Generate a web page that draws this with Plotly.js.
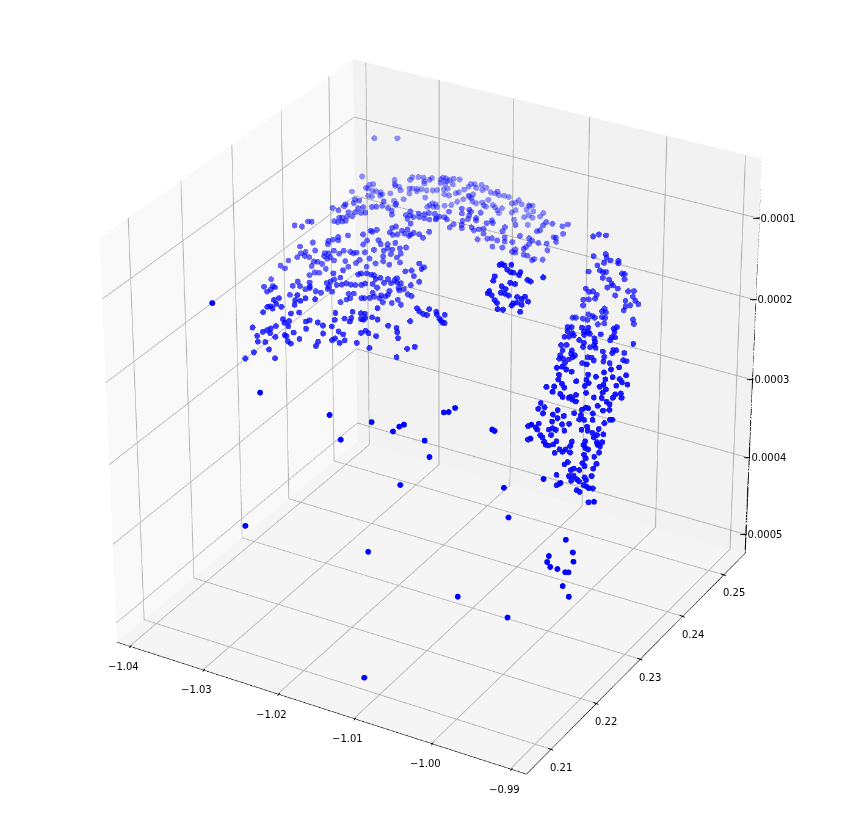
<!DOCTYPE html>
<html><head><meta charset="utf-8"><script src="https://cdn.plot.ly/plotly-3.0.1.min.js"></script>
<style>html,body{margin:0;padding:0;background:#fff;overflow:hidden;width:851px;height:829px}#wrap{position:absolute;left:0;top:0;width:851px;height:829px;overflow:hidden}#c{position:absolute}</style></head>
<body><div id="wrap"><div id="c"></div></div>
<script>
// Axis ticks
const xTicks=[-1.04,-1.03,-1.02,-1.01,-1.00,-0.99];
const yTicks=[0.21,0.22,0.23,0.24,0.25];
const zTicks=[-0.0005,-0.0004,-0.0003,-0.0002,-0.0001];
const xR=[-1.0417,-0.988], yR=[0.2047,0.2553], zR=[-0.000525,-0.000028];
// Point groups: each row is [x, z in millionths]; each group has one y value
const arcBackY=0.2452;
const arcBack=[[-1.0325,-63],[-1.0294,-56],[-1.0342,-114],[-1.0356,-136],[-1.0298,-108],[-1.0298,-113],[-1.0274,-99],[-1.0277,-103],[-1.0266,-97],[-1.0259,-96],[-1.0258,-100],[-1.0251,-97],[-1.0248,-94],[-1.0236,-93],[-1.0233,-90],[-1.0229,-90],[-1.0228,-93],[-1.0224,-91],[-1.0219,-88],[-1.0211,-87],[-1.0236,-97],[-1.023,-97],[-1.022,-95],[-1.0258,-103],
[-1.0332,-122],[-1.0327,-120],[-1.0337,-127],[-1.0334,-127],[-1.0328,-129],[-1.0334,-136],[-1.0329,-136],[-1.0323,-128],[-1.0317,-128],[-1.0315,-130],[-1.0318,-132],[-1.0304,-126],[-1.0292,-115],[-1.0297,-115],[-1.029,-119],[-1.0286,-129],[-1.0299,-134],[-1.0297,-139],[-1.0278,-114],[-1.0278,-120],[-1.0274,-113],[-1.0268,-112],[-1.0268,-115],[-1.0262,-111],[-1.0255,-111],[-1.0247,-109],[-1.0241,-107],[-1.0232,-104],[-1.0227,-102],[-1.0231,-110],[-1.0225,-110],[-1.0257,-120],[-1.0216,-105],[-1.0212,-103],[-1.0205,-98],[-1.0199,-93],[-1.0196,-89],[-1.0191,-88],[-1.0189,-92],[-1.0182,-87],[-1.0176,-89],[-1.0181,-93],[-1.017,-93],[-1.0164,-93],[-1.0161,-90],[-1.0159,-94],[-1.0152,-93],[-1.0146,-93],
[-1.0251,-128],[-1.0247,-125],[-1.0243,-125],[-1.0246,-129],[-1.0241,-128],[-1.0254,-131],[-1.0231,-124],[-1.0222,-121],[-1.0214,-115],[-1.0206,-110],[-1.0199,-104],[-1.0195,-106],[-1.0194,-110],[-1.0189,-111],[-1.0181,-108],[-1.0173,-103],[-1.0179,-111],[-1.0176,-112],[-1.0167,-108],[-1.0164,-110],[-1.0161,-113],[-1.0155,-109],[-1.0159,-116],[-1.0193,-101],[-1.0198,-105],[-1.0142,-100],[-1.0137,-98],[-1.0133,-94],[-1.0129,-98],[-1.0123,-103],[-1.0119,-98],[-1.0115,-96],[-1.012,-97],[-1.0126,-113],[-1.0142,-111],[-1.0137,-107],[-1.012,-109],[-1.0114,-103],[-1.0105,-107],[-1.0101,-102],[-1.0115,-111],[-1.0121,-121],[-1.0139,-119]];
const arcFrontY=0.2452;
const arcFront=[[-1.0346,-145],[-1.0352,-145],[-1.0354,-150],[-1.0365,-154],[-1.0367,-157],[-1.0375,-164],[-1.0383,-163],[-1.0348,-155],[-1.0341,-152],[-1.0344,-160],[-1.0338,-158],[-1.0352,-161],[-1.0361,-163],[-1.0363,-169],[-1.0356,-167],[-1.037,-172],[-1.0374,-173],[-1.0381,-179],[-1.0376,-179],[-1.037,-177],[-1.0365,-175],[-1.0329,-149],[-1.0323,-147],[-1.0315,-144],[-1.0313,-138],[-1.0307,-145],[-1.0302,-147],[-1.0302,-152],[-1.0296,-137],
[-1.0283,-148],[-1.0277,-142],[-1.0277,-147],[-1.0281,-152],[-1.0273,-148],[-1.0266,-142],[-1.0265,-146],[-1.0258,-141],[-1.0252,-138],[-1.0258,-146],[-1.0251,-146],[-1.0244,-137],[-1.0242,-142],[-1.0238,-139],[-1.0231,-138],[-1.0228,-140],[-1.0243,-144],[-1.0225,-130],[-1.0208,-128],[-1.0208,-122],[-1.0198,-121],[-1.0196,-123],[-1.0198,-128],[-1.0189,-129],[-1.0183,-121],[-1.0189,-132],[-1.0168,-127],[-1.0175,-132],[-1.0167,-130],[-1.0207,-137],[-1.02,-133],[-1.0219,-144],[-1.0224,-149],[-1.0208,-142],[-1.0208,-146],[-1.0195,-142],[-1.0192,-145],[-1.0185,-142],[-1.0179,-140],[-1.0179,-146],[-1.0187,-155],[-1.0174,-151],[-1.0168,-149],[-1.0161,-150],[-1.0151,-144],[-1.0151,-149],[-1.0154,-137],[-1.0151,-131],[-1.0167,-159],[-1.0154,-157],[-1.0141,-147],[-1.0137,-155],[-1.0141,-159],[-1.0131,-137],[-1.0123,-149],[-1.0119,-137],[-1.0115,-139],[-1.0107,-140],[-1.0095,-146],[-1.0096,-138],[-1.0087,-128],[-1.0084,-128],[-1.0084,-133],[-1.0075,-121],[-1.0069,-108],[-1.0076,-112],[-1.0089,-112],[-1.0097,-112],[-1.0105,-124],[-1.0109,-126],[-1.0101,-117],[-1.0137,-125],[-1.0126,-152],[-1.0119,-144],[-1.0112,-161],[-1.0121,-159],[-1.0115,-163],[-1.0126,-159],[-1.0137,-159],[-1.0101,-159]];
const wingUpperY=0.23;
const wingUpper=[[-1.0335,-106],[-1.0325,-105],[-1.0317,-97],[-1.0312,-96],[-1.0264,-101],[-1.0244,-95],[-1.0234,-88],[-1.0232,-89],[-1.0226,-85],[-1.0206,-78],[-1.0201,-75],[-1.0182,-67],[-1.0209,-84],[-1.0205,-86],[-1.0199,-84],[-1.0193,-78],[-1.019,-81],[-1.0186,-75],[-1.0182,-80],[-1.0178,-77],[-1.0171,-77],[-1.0158,-71],[-1.0166,-80],[-1.0184,-82],[-1.0277,-106],[-1.0277,-110],[-1.0284,-111],[-1.029,-114],[-1.0291,-118],[-1.0311,-121],[-1.0328,-130],[-1.0308,-130],[-1.0321,-135],[-1.0327,-138],[-1.0332,-144],[-1.0316,-140],[-1.0322,-140],[-1.0355,-160],[-1.0349,-162],[-1.0344,-151],[-1.0295,-130],[-1.0296,-134],[-1.029,-129],[-1.0283,-124],[-1.0276,-126],[-1.027,-121],[-1.0261,-120],[-1.0257,-121],[-1.0253,-119],[-1.0242,-116],[-1.0239,-101],[-1.0244,-107],[-1.023,-110],[-1.0224,-97],[-1.0221,-101],[-1.0212,-99],[-1.0212,-104],[-1.0202,-95],[-1.0206,-104],[-1.0196,-100],[-1.0188,-97],[-1.0217,-108],[-1.0218,-115],[-1.0218,-121],[-1.0208,-110],[-1.0195,-106],[-1.02,-112],[-1.0196,-117],[-1.021,-123],[-1.0236,-122],[-1.0228,-126],[-1.024,-133],[-1.0249,-127],[-1.0254,-132],[-1.0268,-133],[-1.0264,-139],[-1.0292,-136],[-1.0283,-136],[-1.0288,-133],[-1.031,-144],[-1.0305,-143],[-1.0299,-144],[-1.0313,-150],[-1.0294,-149],[-1.0309,-157],[-1.0303,-156],[-1.0316,-162],[-1.0368,-180]];
const wingMidY=0.23;
const wingMid=[[-1.0284,-152],[-1.0271,-145],[-1.0275,-155],[-1.0283,-159],[-1.0288,-163],[-1.0293,-166],[-1.0316,-171],[-1.0316,-176],[-1.0329,-179],[-1.0339,-181],[-1.0332,-174],[-1.0378,-192],[-1.0366,-188],[-1.0363,-189],[-1.0374,-197],[-1.0369,-193],[-1.0343,-193],[-1.0322,-181],[-1.0316,-178],[-1.0308,-180],[-1.0301,-180],[-1.029,-170],[-1.0292,-173],[-1.0286,-175],[-1.028,-165],[-1.0273,-163],[-1.0267,-160],[-1.0261,-160],[-1.0255,-159],[-1.0247,-157],[-1.0242,-154],[-1.0251,-145],[-1.0247,-143],[-1.024,-141],[-1.0234,-141],[-1.023,-141],[-1.0228,-145],[-1.0222,-142],[-1.0232,-152],[-1.0226,-155],[-1.0217,-147],[-1.0212,-141],[-1.0208,-145],[-1.0203,-140],[-1.02,-137],[-1.02,-142],[-1.0195,-142],[-1.0189,-126],[-1.0181,-123],[-1.0171,-112],[-1.0168,-118],[-1.0165,-115],[-1.0178,-129],[-1.0171,-134],[-1.0182,-141],[-1.0191,-148],[-1.0198,-148],[-1.0197,-151],[-1.021,-155],[-1.0212,-160],[-1.0221,-163],[-1.0223,-167],[-1.0232,-163],[-1.0236,-170],[-1.023,-167],[-1.0247,-173],[-1.0243,-172],[-1.0219,-171],[-1.0215,-163],[-1.0257,-170],[-1.0264,-172],[-1.0262,-177],[-1.0267,-180],[-1.0275,-185],[-1.0181,-154],[-1.0186,-153],[-1.0207,-169],[-1.0199,-163],[-1.0195,-168]];
const wingLowerY=0.23;
const wingLower=[[-1.0333,-191],[-1.0336,-198],[-1.0329,-197],[-1.0322,-192],[-1.0309,-190],[-1.0358,-201],[-1.0365,-205],[-1.0362,-209],[-1.0355,-211],[-1.037,-214],[-1.0374,-216],[-1.0367,-216],[-1.0337,-204],[-1.038,-224],[-1.0342,-216],[-1.0331,-212],[-1.0282,-200],[-1.0259,-193],[-1.0248,-192],[-1.0243,-191],[-1.0248,-199],[-1.0242,-196],[-1.0233,-193],[-1.0245,-199],[-1.0226,-194],[-1.0226,-180],[-1.0261,-201],[-1.027,-204],[-1.0263,-206],[-1.0283,-209],[-1.0317,-218],[-1.0322,-221],[-1.0353,-226],[-1.0345,-226],[-1.0351,-230],[-1.0346,-233],[-1.0395,-247],[-1.0363,-237],[-1.037,-242],[-1.0375,-245],[-1.0381,-249],[-1.0389,-256],[-1.0388,-263],[-1.0378,-261],[-1.0364,-251],[-1.0371,-248],[-1.0351,-245],[-1.0349,-246],[-1.0339,-239],[-1.0347,-252],[-1.0343,-254],[-1.0331,-245],[-1.0322,-230],[-1.0306,-218],[-1.0299,-220],[-1.0287,-218],[-1.0299,-230],[-1.0278,-222],[-1.0272,-224],[-1.0283,-232],[-1.0287,-235],[-1.027,-231],[-1.0277,-236],[-1.0306,-242],[-1.0309,-248],[-1.0254,-230],[-1.0248,-216],[-1.0242,-212],[-1.0238,-214],[-1.0228,-215],[-1.0212,-198],[-1.0201,-198],[-1.02,-203],[-1.0199,-210],[-1.0183,-185],[-1.0237,-232],[-1.0187,-220],[-1.0177,-215],[-1.0201,-234],[-1.0406,-289],[-1.0394,-278],[-1.0373,-269],[-1.0365,-278],[-1.0174,-167],[-1.0171,-170],[-1.0166,-172],[-1.0161,-172],[-1.0158,-164],[-1.0149,-165],[-1.0148,-168],[-1.0138,-166],[-1.0145,-172],[-1.0143,-174],[-1.0141,-176],[-1.0138,-176]];
const armInnerY=0.2351;
const armInner=[[-1.0098,-119],[-1.0095,-117],[-1.0092,-118],[-1.0083,-115],[-1.0088,-122],[-1.0084,-124],[-1.008,-124],[-1.0073,-125],[-1.0071,-121],[-1.0104,-134],[-1.0106,-140],[-1.0084,-137],[-1.0078,-137],[-1.0062,-128],[-1.0058,-129],[-1.0042,-120],[-1.0095,-144],[-1.009,-146],[-1.0096,-152],[-1.0111,-154],[-1.0113,-157],[-1.0108,-158],[-1.0086,-153],[-1.0075,-152],[-1.0065,-149],[-1.0069,-153],[-1.0104,-163],[-1.0101,-166],[-1.0075,-159],[-1.0069,-160],[-1.0061,-154],[-1.008,-161],[-1.0082,-164],[-1.01,-173],[-1.0093,-172],[-1.0071,-169],[-1.0091,-152]];
const armUpperY=0.2351;
const armUpper=[[-0.998,-56],[-0.9973,-52],[-0.9964,-51],[-0.9964,-73],[-0.9963,-77],[-0.9979,-79],[-0.9958,-79],[-0.9966,-84],[-0.9948,-77],[-0.9948,-80],[-0.9974,-89],[-0.9971,-94],[-0.9985,-99],[-0.9967,-95],[-0.9963,-94],[-0.9943,-91],[-0.994,-91],[-0.994,-97],[-0.9967,-102],[-0.9959,-102],[-0.9956,-106],[-0.9954,-108],[-0.9948,-110],[-0.9961,-112],[-0.9988,-120],[-0.9984,-123],[-0.9979,-121],[-0.9974,-124],[-0.9976,-129],[-0.9984,-132],[-0.9991,-134],[-0.9991,-141],[-0.9951,-119],[-0.9935,-110],[-0.9928,-108],[-0.9929,-115],[-0.9938,-122],[-0.9932,-126],[-0.9926,-119],[-0.9922,-122],[-0.9938,-129],[-0.994,-134],[-0.9964,-138],[-0.9967,-142],[-0.9962,-142],[-0.9984,-150],[-0.9979,-151],[-0.9976,-152],[-0.9967,-149],[-0.9963,-149],[-1.0004,-159],[-1,-158],[-0.9991,-157],[-0.9985,-157],[-0.9964,-156],[-0.9972,-159],[-0.9928,-142],[-0.9927,-147]];
const armMidY=0.2351;
const armMid=[[-1.001,-172],[-1.0005,-171],[-0.9992,-168],[-0.9984,-166],[-0.9948,-156],[-0.9952,-159],[-0.9951,-163],[-1.001,-177],[-1.0004,-178],[-1.0008,-183],[-1.0002,-180],[-1.0014,-185],[-0.9989,-172],[-0.9984,-171],[-0.9995,-184],[-0.9989,-176],[-0.9982,-173],[-0.9968,-170],[-0.9954,-170],[-0.995,-169],[-0.9956,-174],[-0.9976,-177],[-0.9975,-181],[-0.9989,-186],[-0.999,-191],[-0.9981,-189],[-0.9976,-185],[-0.9974,-188],[-0.9927,-171],[-1.0018,-196],[-1.0011,-194],[-1.0019,-209],[-1.0016,-202],[-1.0004,-199],[-1.0005,-203],[-1,-204],[-1.0003,-207],[-1.0008,-211],[-1.0015,-212],[-1.002,-213],[-1.0013,-217],[-0.9991,-211],[-0.9984,-202],[-0.9979,-201],[-0.9976,-204],[-0.9965,-190],[-0.9952,-185],[-0.9948,-184],[-0.9953,-189],[-0.9938,-185],[-0.9939,-194],[-0.9935,-194],[-0.9963,-196],[-0.9964,-202],[-0.9956,-202]];
const armLowerY=0.2351;
const armLower=[[-1.0023,-225],[-1.0016,-222],[-1.0011,-224],[-1.0004,-225],[-1.002,-233],[-1.0021,-239],[-1.0026,-249],[-1.0036,-252],[-1.0028,-256],[-1.0018,-256],[-1.0015,-259],[-1.0005,-256],[-1.0007,-258],[-0.9998,-252],[-0.9998,-260],[-1.0002,-259],[-1.0013,-247],[-0.9998,-235],[-1.0016,-243],[-0.9985,-211],[-0.9983,-223],[-0.9973,-223],[-0.9985,-230],[-0.9982,-233],[-0.9987,-238],[-0.9985,-246],[-0.9975,-249],[-0.9965,-247],[-0.997,-258],[-0.9959,-250],[-0.9955,-252],[-0.9955,-259],[-0.9963,-262],[-0.9961,-223],[-0.9963,-230],[-0.9968,-234],[-0.996,-235],[-0.9964,-240],[-0.9952,-218],[-0.9943,-218],[-0.994,-221],[-0.9935,-211],[-0.9944,-204],[-0.9954,-209],[-0.9963,-215],[-0.9947,-227],[-0.9933,-222],[-0.9941,-235],[-0.994,-240],[-0.9948,-238],[-0.9951,-243],
[-1.0043,-274],[-1.0046,-282],[-1.0038,-278],[-1.004,-286],[-1.0021,-277],[-1.0027,-284],[-1.0021,-287],[-1.0028,-293],[-1.0013,-282],[-1,-275],[-0.999,-268],[-0.9985,-264],[-0.9982,-264],[-0.9991,-275],[-0.9993,-281],[-0.9987,-280],[-0.9976,-269],[-0.9976,-277],[-1.0059,-307],[-1.0045,-300],[-1.0049,-306],[-1.0047,-308],[-1.0027,-301],[-1.0023,-302],[-1.0015,-293],[-1.0006,-290],[-1.0012,-300],[-0.999,-293],[-0.9983,-287],[-0.9982,-292],[-0.9968,-286],[-0.9961,-277],[-0.9954,-271],[-0.9951,-270],[-0.9976,-293],[-0.997,-294],[-0.9962,-291],[-1.0043,-314],[-1.004,-316],[-1.0032,-304],[-1.0029,-310],[-1.0038,-321],[-1.0036,-324],[-1.0032,-324],[-1.0026,-321],[-1.0022,-316],[-1.0059,-324],[-1.0002,-311],[-1.0004,-317],[-0.9987,-311],[-0.9985,-306],[-0.9974,-298],[-0.997,-303],[-0.9963,-301],[-0.9969,-306],[-0.9966,-307],
[-1.0018,-325],[-1.0024,-331],[-1.0014,-327],[-1.001,-323],[-1.0004,-325],[-0.9985,-314],[-0.9981,-315],[-0.9986,-323],[-0.9984,-327],[-0.9967,-315],[-0.9973,-322],[-0.997,-330],[-0.9988,-334],[-0.9985,-337],[-0.9974,-337],[-1.0007,-338],[-1.0011,-342],[-0.9999,-344],[-1.0003,-347],[-0.9992,-344],[-1.0021,-358],[-1.0005,-355],[-0.9999,-353],[-1.0002,-360],[-0.9995,-356],[-0.9992,-358],[-0.9976,-347],[-0.9985,-351],[-0.9983,-354],[-0.9986,-361],[-0.9982,-362],[-1.0017,-368],[-1.0021,-371],[-0.9979,-363],[-0.9974,-362],[-0.9995,-370],[-0.9991,-371],[-0.9979,-381]];
const strayFarY=0.2123;
const strayFar=[[-1.0326,-117],[-1.0266,-209],[-1.0176,-212],[-1.0162,-238],[-1.0122,-206],[-1.0095,-210],[-1.0087,-202],[-1.0081,-198],[-1.0055,-210],[-1.0049,-228],[-1.0031,-170],[-1.0025,-168],[-1.0017,-161],[-1.0086,-272],[-0.9956,-239],[-0.995,-273],[-1.029,-380],[-1.0128,-366],[-1.0013,-388],[-0.995,-395]];
const strayNearY=0.2072;
const strayNear=[[-1.0102,-488]];
const clusterY=0.2199;
const cluster=[[-0.9922,-332],[-0.9913,-345],[-0.9943,-358],[-0.9945,-366],[-0.9912,-356],[-0.9941,-371],[-0.9932,-371],[-0.9922,-372],[-0.9918,-371],[-0.9925,-390],[-0.9917,-401],[-0.993,-265],[-0.9951,-266],[-0.9888,-276],[-1.0016,-224],[-1.0013,-225],[-0.9967,-205],[-0.9968,-222]];
const groups=[[arcBack,arcBackY,0.42],[arcFront,arcFrontY,0.55],[wingUpper,wingUpperY,0.6],[wingMid,wingMidY,0.68],[wingLower,wingLowerY,0.78],[armUpper,armUpperY,0.7],[armInner,armInnerY,0.85],[armMid,armMidY,0.82],[armLower,armLowerY,0.9],[strayFar,strayFarY,1],[strayNear,strayNearY,1],[cluster,clusterY,1]];

const S=3517, L=9, CX=436, CY=402.5;
const el=document.getElementById('c');
el.style.width=S+'px';el.style.height=S+'px';
el.style.left=(CX-S/2)+'px';el.style.top=(CY-S/2)+'px';
const ax=(r,t,wall,line)=>({range:r,tickvals:t,title:{text:''},backgroundcolor:wall,showbackground:true,gridcolor:'#b0b0b0',gridwidth:1.5,showspikes:false,zeroline:false,showline:line,linecolor:'#000',linewidth:1,ticks:'',showticklabels:false,autorange:false});
const font={family:'DejaVu Sans',size:10,color:'#000'};
const ann=[];
const tick=(x,y,z,sx,sy,dx,dy)=>ann.push({x,y,z,text:' ',showarrow:true,arrowhead:0,arrowwidth:1,arrowcolor:'#000',standoff:0,startstandoff:0,xshift:sx,yshift:sy,ax:dx,ay:dy});
xTicks.forEach(v=>{ann.push({x:v,y:yR[0],z:zR[0],text:'−'+Math.abs(v).toFixed(2),showarrow:false,xshift:-6,yshift:-20,font});tick(v,yR[0],zR[0],2,1,-5,7);});
yTicks.forEach(v=>{ann.push({x:xR[1],y:v,z:zR[0],text:v.toFixed(2),showarrow:false,xshift:10,yshift:-18,font});tick(xR[1],v,zR[0],-3,1,8,3);});
zTicks.forEach(v=>{ann.push({x:xR[1],y:yR[1],z:v,text:'−'+Math.abs(v).toFixed(4),showarrow:false,xshift:15,yshift:0,font});tick(xR[1],yR[1],v,-3,0,7,-1);});
const traces=groups.map(([pts,y,alpha])=>({type:'scatter3d',mode:'markers',x:pts.map(p=>p[0]),y:pts.map(()=>y),z:pts.map(p=>p[1]*1e-6),marker:{size:2.8,color:'#0000ff',opacity:alpha,line:{width:0}},hoverinfo:'skip'}));
traces.push({type:'scatter3d',mode:'lines',x:[xR[1],xR[1]],y:[yR[1],yR[1]],z:zR,line:{color:'#000',width:2},hoverinfo:'skip'});
Plotly.newPlot(el,traces,{
 width:S,height:S,margin:{l:0,r:0,t:0,b:0},paper_bgcolor:'#fff',showlegend:false,
 scene:{domain:{x:[0,1],y:[0,1]},aspectmode:'manual',aspectratio:{x:1,y:1,z:0.97},annotations:ann,
  camera:{eye:{x:L*0.4365,y:-L*0.756,z:L*0.488},center:{x:0,y:0,z:0},up:{x:0,y:0,z:1}},
  xaxis:ax(xR,xTicks,'#f9f9f9',true),
  yaxis:ax(yR,yTicks,'#f2f2f2',true),
  zaxis:ax(zR,zTicks,'#f5f5f5',false)}
},{displayModeBar:false});
</script></body></html>
